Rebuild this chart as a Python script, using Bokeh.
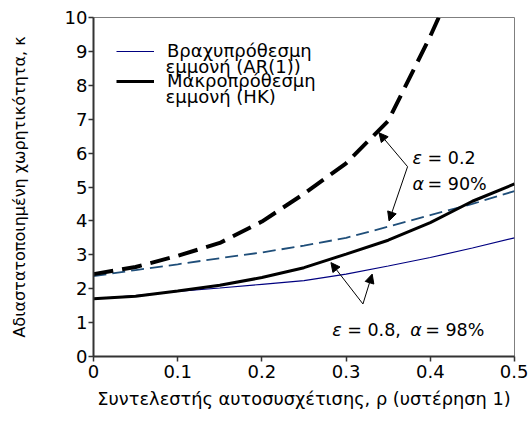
from bokeh.plotting import figure
from bokeh.models import (Range1d, FixedTicker, Legend, LegendItem, Arrow,
                          NormalHead, Label, CustomJSTickFormatter)
from bokeh.embed import file_html
from bokeh.resources import INLINE

# ---- data ----
rho = [0.0, 0.05, 0.10, 0.15, 0.20, 0.25, 0.30, 0.35, 0.40, 0.45, 0.50]
ar1_eps08 = [1.70, 1.80, 1.92, 2.02, 2.13, 2.24, 2.43, 2.67, 2.92, 3.20, 3.50]
hk_eps08 = [1.70, 1.78, 1.93, 2.10, 2.33, 2.62, 3.02, 3.43, 3.95, 4.58, 5.09]
ar1_eps02 = [2.37, 2.55, 2.72, 2.90, 3.07, 3.27, 3.50, 3.83, 4.17, 4.50, 4.88]
rho_hk02 = [0.0, 0.05, 0.10, 0.15, 0.20, 0.25, 0.30, 0.35, 0.40, 0.41]
hk_eps02 = [2.43, 2.64, 2.97, 3.35, 3.98, 4.80, 5.70, 6.95, 9.45, 10.0]

x_ticks = [0, 0.1, 0.2, 0.3, 0.4, 0.5]
y_ticks = list(range(0, 11))

legend_line1 = ["Βραχυπρόθεσμη", "Μακροπρόθεσμη"]
legend_line2 = ["εμμονή (AR(1))", "εμμονή (HK)"]
x_title = "Συντελεστής αυτοσυσχέτισης, ρ (υστέρηση 1)"
y_title = "Αδιαστατοποιημένη χωρητικότητα, κ"

# annotation anchors (data units)
ann1_tail = (0.373, 5.60)
ann1_heads = [(0.339, 6.60), (0.351, 4.00)]
ann2_tail = (0.320, 1.55)
ann2_heads = [(0.282, 2.77), (0.331, 2.43)]

FONT = "DejaVu Sans"
LEG_FS = "18px"

p = figure(frame_width=421, frame_height=339, output_backend="svg",
           toolbar_location=None,
           x_range=Range1d(0, 0.5), y_range=Range1d(0, 10),
           min_border_left=93, min_border_right=14, min_border_top=17,
           min_border_bottom=75)
p.xgrid.visible = False
p.ygrid.visible = False
p.outline_line_color = "#7f7f7f"
p.outline_line_width = 1
p.background_fill_color = "white"
p.border_fill_color = "white"

for ax in (p.xaxis[0], p.yaxis[0]):
    ax.axis_line_color = "#333333"
    ax.axis_line_width = 2
    ax.major_tick_line_color = "#333333"
    ax.major_tick_line_width = 1.5
    ax.major_tick_out = 5
    ax.major_tick_in = 0
    ax.minor_tick_line_color = None
    ax.major_label_text_font = FONT
    ax.major_label_text_font_size = "18px"
    ax.major_label_text_color = "black"
    ax.axis_label_text_font = FONT
    ax.axis_label_text_font_style = "normal"
    ax.axis_label_text_color = "black"

p.xaxis.axis_label_text_font_size = "17.8px"
p.yaxis.axis_label_text_font_size = "16px"
p.xaxis.ticker = FixedTicker(ticks=x_ticks)
p.yaxis.ticker = FixedTicker(ticks=y_ticks)
p.xaxis.formatter = CustomJSTickFormatter(code="return tick == 0 ? '0' : tick.toFixed(1);")
p.xaxis.major_label_standoff = 3
p.yaxis.major_label_standoff = 1
p.xaxis.axis_label = x_title
p.yaxis.axis_label = y_title
p.xaxis.axis_label_standoff = 7
p.yaxis.axis_label_standoff = 33

r_ar08 = p.line(rho, ar1_eps08, line_color="#000080", line_width=1.2)
r_ar02 = p.line(rho, ar1_eps02, line_color="#1F4E79", line_width=1.8, line_dash="13 6")
r_hk08 = p.line(rho, hk_eps08, line_color="black", line_width=3)
r_hk02 = p.line(rho_hk02, hk_eps02, line_color="black", line_width=4, line_dash="20 9")

legend = Legend(items=[LegendItem(label=legend_line1[0], renderers=[r_ar08]),
                       LegendItem(label=legend_line1[1], renderers=[r_hk08])],
                location="top_left", border_line_color=None,
                background_fill_alpha=0, label_text_font=FONT,
                label_text_font_size=LEG_FS,
                label_text_color="black",
                glyph_width=38, spacing=9, margin=23, padding=0,
                label_standoff=13)
p.add_layout(legend)

# second lines of the legend labels (screen units, from frame bottom-left)
for txt, sy in zip(legend_line2, [290, 260]):
    p.add_layout(Label(x=72, y=sy, x_units="screen", y_units="screen", text=txt,
                       text_font=FONT, text_font_size=LEG_FS, text_color="black",
                       text_baseline="middle"))

def arrow(tail, head):
    p.add_layout(Arrow(end=NormalHead(size=9, fill_color="black", line_color="black"),
                       x_start=tail[0], y_start=tail[1], x_end=head[0], y_end=head[1],
                       line_color="black", line_width=1))

for h in ann1_heads:
    arrow(ann1_tail, h)
for h in ann2_heads:
    arrow(ann2_tail, h)

def label(x, y, txt, xoff=0, italic=False):
    p.add_layout(Label(x=x, y=y, x_offset=xoff, text=txt, text_font=FONT,
                       text_font_size="17.5px",
                       text_font_style="italic" if italic else "normal",
                       text_color="black", text_baseline="alphabetic"))

label(0.379, 5.85, "ε", italic=True)
label(0.379, 5.85, "= 0.2", xoff=15)
label(0.379, 5.1, "α", italic=True)
label(0.379, 5.1, "= 90%", xoff=15)
label(0.2835, 0.78, "ε", italic=True)
label(0.2835, 0.78, "= 0.8,", xoff=15)
label(0.2835, 0.78, "α", xoff=78, italic=True)
label(0.2835, 0.78, "= 98%", xoff=93)

open("out.html", "w").write(file_html(p, INLINE))
